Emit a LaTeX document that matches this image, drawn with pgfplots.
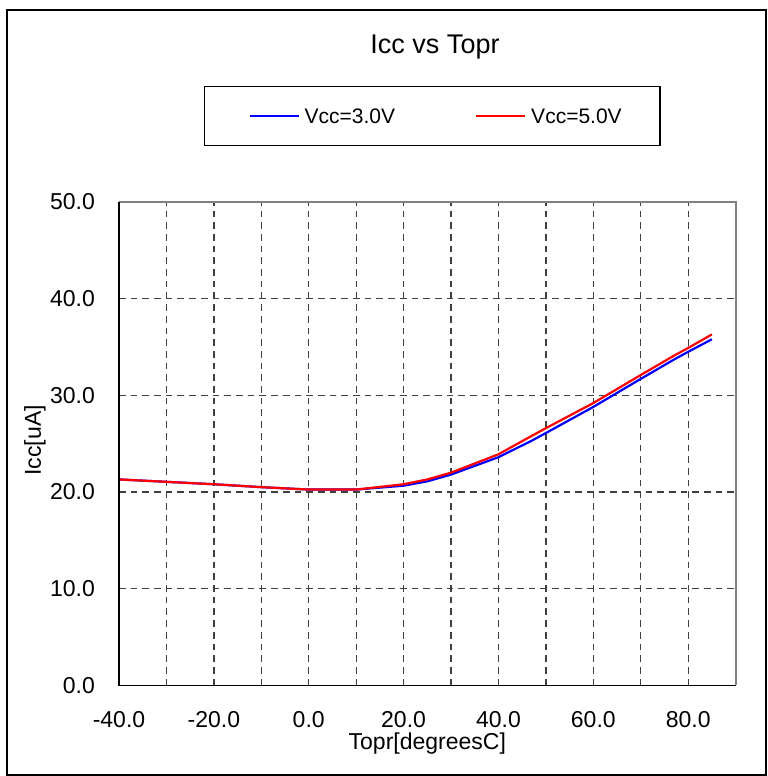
\documentclass[border=0pt]{standalone}
\usepackage{fontspec}
\setmainfont{Liberation Sans}
\usepackage{pgfplots}
\pgfplotsset{compat=1.18}
\begin{document}
\begin{tikzpicture}
\useasboundingbox (-59.5pt,-45.35pt) rectangle (324pt,342.65pt);
\draw[line width=1pt] (-56pt,-44.6pt) rectangle (323.25pt,337.65pt);
\begin{axis}[
  scale only axis, width=308.3pt, height=241.65pt,
  xmin=-40, xmax=90, ymin=0, ymax=50,
  clip=false,
  axis line style={draw=none},
  xtick={-40,-30,...,80},
  xticklabels={-40.0,,-20.0,,0.0,,20.0,,40.0,,60.0,,80.0},
  ytick={0,10,...,50},
  yticklabels={0.0,10.0,20.0,30.0,40.0,50.0},
  major tick length=0pt,
  tick style={draw=none},
  grid=major,
  major grid style={black!75, line width=0.65pt, dash pattern=on 3.35pt off 2.5pt},
  ticklabel style={font=\fontsize{11.5}{13.8}\selectfont},
  xticklabel style={yshift=-9.37pt},
  yticklabel style={xshift=-8.5pt},
  xlabel={Topr[degreesC]},
  ylabel={Icc[uA]},
  label style={font=\fontsize{11.5}{13.8}\selectfont},
  xlabel style={at={(axis description cs:0.5,-0.1215)}, anchor=center},
  ylabel style={at={(axis description cs:-0.1362,0.507)}, anchor=center},
  legend columns=2,
  legend cell align=left,
  legend image code/.code={\path[draw=none] (0pt,0pt); \draw[#1] (3.2pt,0pt) -- (27.7pt,0pt);},
  legend style={at={(axis description cs:0.1383,1.240)}, anchor=north west,
    draw=black, line width=0.6pt,
    inner xsep=19.15pt, inner ysep=10.95pt,
    font=\fontsize{10.5}{12}\selectfont,
    nodes={inner sep=0pt, text height=7.6pt, text depth=0pt},
    /tikz/every even column/.append style={column sep=37.3pt},
    /tikz/every odd column/.append style={column sep=2.5pt}},
]
\addplot[color={rgb,255:red,0;green,0;blue,255}, line width=1.1pt] coordinates {
(-40,21.3) (-30,21.05) (-20,20.8) (-10,20.5) (0,20.25) (10,20.25) (20,20.65) (25,21.1) (30,21.8) (40,23.6) (47,25.3) (50,26.1) (60,28.8) (70,31.7) (77,33.7) (80,34.5) (85,35.8)};
\addlegendentry{Vcc=3.0V}
\addplot[color={rgb,255:red,255;green,0;blue,0}, line width=1.1pt] coordinates {
(-40,21.3) (-30,21.05) (-20,20.8) (-10,20.5) (0,20.25) (10,20.25) (20,20.8) (25,21.3) (30,22.0) (40,23.9) (47,25.8) (50,26.6) (60,29.2) (70,32.1) (77,34.1) (80,34.9) (85,36.3)};
\addlegendentry{Vcc=5.0V}
\draw[gray, line width=1pt] (rel axis cs:0,1) -- (rel axis cs:1,1) -- (rel axis cs:1,0);
\draw[black, line width=0.65pt] (rel axis cs:0,1) -- (rel axis cs:0,0) -- (rel axis cs:1,0);
\end{axis}
\node[font=\fontsize{13.5}{16}\selectfont, anchor=base] at (158pt,316pt) {Icc vs Topr};
\end{tikzpicture}
\end{document}
